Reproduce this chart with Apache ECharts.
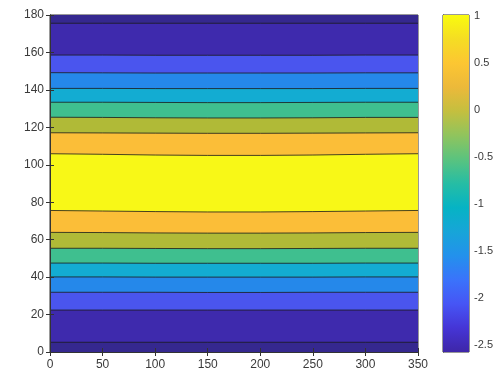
<!DOCTYPE html>
<html>
<head>
<meta charset="utf-8">
<script src="https://cdn.jsdelivr.net/npm/echarts@6/dist/echarts.min.js"></script>
<style>
  html, body { margin: 0; padding: 0; background: #fff; }
  #chart { width: 496px; height: 374px; }
</style>
</head>
<body>
<div id="chart"></div>
<script>
const xs = [0, 50, 100, 150, 200, 250, 300, 350];

// contour boundaries, top to bottom (first row is the top edge of the plot)
const boundaries = [
  [180, 180, 180, 180, 180, 180, 180, 180],
  [175.6, 175.6, 175.6, 175.6, 175.6, 175.6, 175.6, 175.6],
  [158.6, 158.6, 158.5, 158.5, 158.5, 158.5, 158.6, 158.6],
  [149.2, 149.1, 149.0, 149.0, 149.0, 149.0, 149.1, 149.1],
  [140.8, 140.8, 140.7, 140.7, 140.7, 140.7, 140.8, 140.8],
  [133.4, 133.4, 133.3, 133.2, 133.2, 133.3, 133.4, 133.4],
  [125.4, 125.3, 125.1, 125.0, 125.0, 125.1, 125.3, 125.3],
  [117.1, 117.0, 116.9, 116.8, 116.8, 116.9, 117.0, 117.1],
  [105.9, 105.6, 105.2, 105.0, 105.0, 105.2, 105.6, 105.9],
  [75.6, 75.3, 75.0, 74.8, 74.8, 75.0, 75.3, 75.6],
  [63.9, 63.8, 63.6, 63.5, 63.5, 63.6, 63.8, 63.9],
  [55.4, 55.4, 55.3, 55.2, 55.2, 55.3, 55.4, 55.4],
  [47.5, 47.5, 47.4, 47.4, 47.4, 47.4, 47.5, 47.5],
  [40.1, 40.1, 40.0, 40.0, 40.0, 40.0, 40.1, 40.1],
  [31.9, 31.9, 31.9, 31.8, 31.8, 31.9, 31.9, 31.9],
  [22.4, 22.4, 22.4, 22.4, 22.4, 22.4, 22.4, 22.4],
  [5.2, 5.2, 5.2, 5.2, 5.2, 5.2, 5.2, 5.2]
];

// level index of the band lying under each boundary
const bandLevels = [0, 1, 2, 3, 4, 5, 6, 7, 8, 7, 6, 5, 4, 3, 2, 1, 0];

// colorbar ticks and range
const cbarTicks = [-2.5, -2, -1.5, -1, -0.5, 0, 0.5, 1];
const cbarMin = -2.57;
const cbarMax = 1.01;

// fill colours per level (parula, sampled at each contour level)
const levelColors = [
  "#35288f", "#3e2aad", "#4a55ee", "#2588ea", "#13acd2",
  "#3fbf8f", "#b0ba37", "#fbbe38", "#f8f817"
];
// parula stops for the colorbar, bottom to top
const parula = [
  "#3e26a8", "#4535d6", "#4655f5", "#3a73fb", "#2391ec", "#17a5d8",
  "#06b3c4", "#26bda4", "#5ac37f", "#90c45d", "#c4bf3f", "#ecb93a",
  "#fcc632", "#f5dd23", "#f9fb0e"
];

const chart = echarts.init(document.getElementById("chart"), null, { renderer: "canvas" });

const font = { fontFamily: "Liberation Sans, Arial, sans-serif", color: "#3a3a3a" };
const axisLine = { show: true, lineStyle: { color: "#333", width: 1 } };
const tick = { inside: true, length: 4, lineStyle: { color: "#333" } };
const mirror = { z: 5, axisLine, splitLine: { show: false }, axisTick: tick, axisLabel: { show: false } };

const series = boundaries.map((row, i) => ({
  type: "line",
  xAxisIndex: 0,
  yAxisIndex: 0,
  data: row.map((y, j) => [xs[j], y]),
  showSymbol: false,
  silent: true,
  animation: false,
  lineStyle: { color: "#1a1a1a", width: i === 0 ? 0 : 0.8 },
  areaStyle: { color: levelColors[bandLevels[i]], opacity: 1, origin: "start" }
}));

series.push({
  type: "line",
  xAxisIndex: 1,
  yAxisIndex: 1,
  data: [[0, cbarMax], [1, cbarMax]],
  showSymbol: false,
  silent: true,
  animation: false,
  lineStyle: { width: 0 },
  areaStyle: {
    opacity: 1,
    origin: "start",
    color: new echarts.graphic.LinearGradient(0, 1, 0, 0,
      parula.map((c, k) => ({ offset: k / (parula.length - 1), color: c })))
  }
});

const option = {
  backgroundColor: "#fff",
  animation: false,
  grid: [
    { left: 50, right: 78, top: 15, bottom: 22, show: true, borderColor: "#333", borderWidth: 1, backgroundColor: "transparent" },
    { left: 443, width: 27, top: 15, bottom: 22, show: true, borderColor: "#333", borderWidth: 1, backgroundColor: "transparent" }
  ],
  xAxis: [
    {
      gridIndex: 0, type: "value", min: 0, max: 350, interval: 50, z: 5,
      axisLine, splitLine: { show: false }, axisTick: tick,
      axisLabel: { ...font, fontSize: 12, margin: 7 }
    },
    { gridIndex: 1, type: "value", min: 0, max: 1, show: false },
    { gridIndex: 0, type: "value", min: 0, max: 350, interval: 50, position: "top", ...mirror }
  ],
  yAxis: [
    {
      gridIndex: 0, type: "value", min: 0, max: 180, interval: 20, z: 5,
      axisLine, splitLine: { show: false }, axisTick: tick,
      axisLabel: { ...font, fontSize: 12, margin: 6 }
    },
    {
      gridIndex: 1, type: "value", min: cbarMin, max: cbarMax, position: "right",
      axisLine, splitLine: { show: false },
      axisTick: { show: false },
      axisLabel: { ...font, fontSize: 11, margin: 5, customValues: cbarTicks }
    },
    { gridIndex: 0, type: "value", min: 0, max: 180, interval: 20, position: "right", ...mirror }
  ],
  series
};

chart.setOption(option);
</script>
</body>
</html>
